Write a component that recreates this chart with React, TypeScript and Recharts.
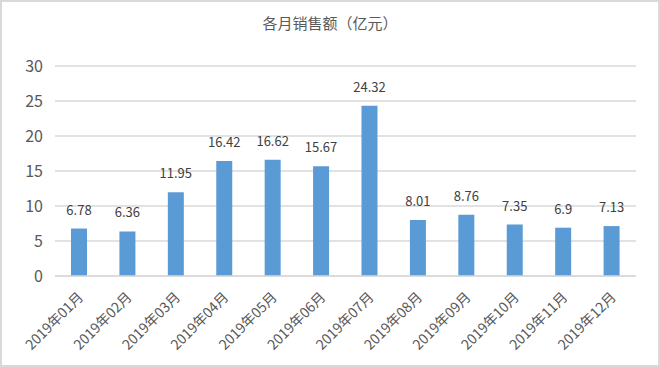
import { BarChart, Bar, XAxis, YAxis, CartesianGrid, LabelList } from 'recharts'

const months = [
  '2019年01月', '2019年02月', '2019年03月', '2019年04月', '2019年05月', '2019年06月',
  '2019年07月', '2019年08月', '2019年09月', '2019年10月', '2019年11月', '2019年12月',
]
const sales = [6.78, 6.36, 11.95, 16.42, 16.62, 15.67, 24.32, 8.01, 8.76, 7.35, 6.9, 7.13]
const yTicks = [0, 5, 10, 15, 20, 25, 30]

const data = months.map((m, i) => ({ month: m, sales: sales[i] }))

const font = '"Noto Sans CJK SC", "Microsoft YaHei", sans-serif'

const MonthTick = (props: any) => {
  const { x, y, payload } = props
  return (
    <text
      x={x + 5}
      y={y + 14}
      transform={`rotate(-45, ${x + 5}, ${y + 14})`}
      textAnchor="end"
      fontSize={14}
      fill="#595959"
      fontFamily={font}
    >
      {payload.value}
    </text>
  )
}

export default function App() {
  return (
    <div style={{ position: 'relative', width: 660, height: 367 }}>
      <style>{'body{margin:0}'}</style>
      <div
        style={{
          position: 'absolute', left: 0, top: 0, width: 656, height: 363,
          border: '2px solid #d9d9d9', pointerEvents: 'none',
        }}
      />
      <div
        style={{
          position: 'absolute', top: 12, left: 0, width: 660, textAlign: 'center',
          fontSize: 15, color: '#595959', fontFamily: font,
        }}
      >
        各月销售额（亿元）
      </div>
      <BarChart width={660} height={367} data={data} margin={{ top: 66, right: 24, bottom: 0, left: 0 }}>
        <CartesianGrid vertical={false} stroke="#d9d9d9" strokeWidth={1.5} />
        <XAxis
          dataKey="month"
          interval={0}
          height={91}
          tickLine={false}
          axisLine={{ stroke: '#d9d9d9', strokeWidth: 1.5 }}
          tick={<MonthTick />}
        />
        <YAxis
          domain={[0, 30]}
          ticks={yTicks}
          width={55}
          tickLine={false}
          axisLine={false}
          tickMargin={6}
          tick={{ fontSize: 16, fill: '#595959', fontFamily: font }}
        />
        <Bar dataKey="sales" fill="#5b9bd5" barSize={16} isAnimationActive={false}>
          <LabelList dataKey="sales" position="top" offset={14} fontSize={13} fill="#404040" fontFamily={font} />
        </Bar>
      </BarChart>
    </div>
  )
}
